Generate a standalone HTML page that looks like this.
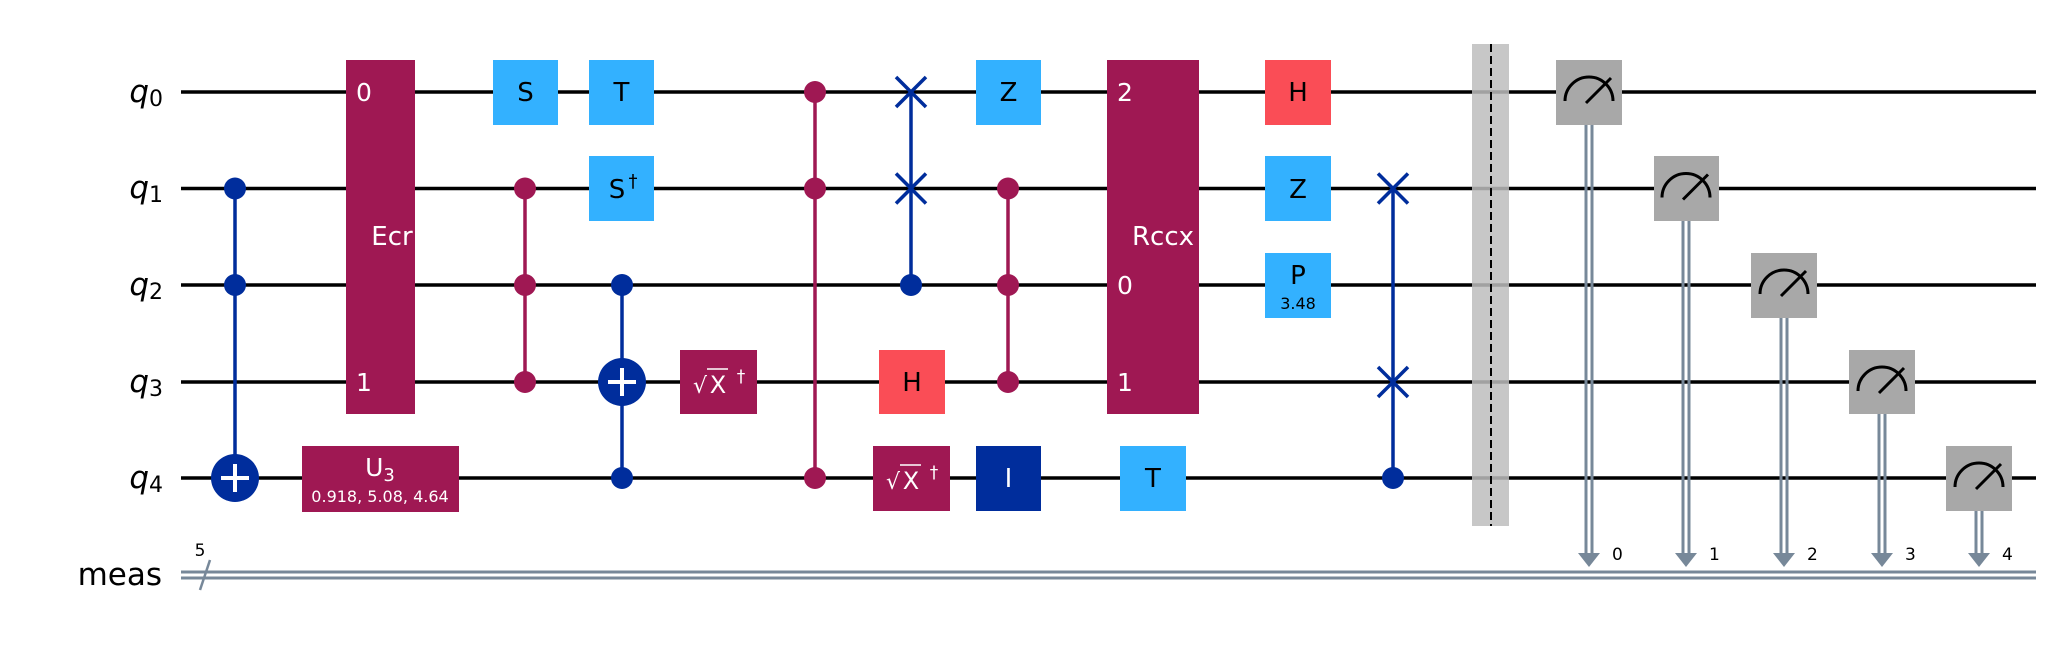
<!DOCTYPE html>
<html><head><meta charset="utf-8"><style>
html,body{margin:0;padding:0;background:#fff;}
svg{display:block;font-family:"DejaVu Sans","Liberation Sans",sans-serif;}
</style></head><body>
<svg width="2052" height="648" viewBox="0 0 2052 648" xmlns="http://www.w3.org/2000/svg">
<rect width="2052" height="648" fill="#fff"/>
<!-- wires -->
<g stroke="#000" stroke-width="3.5">
<line x1="181" y1="92" x2="2036" y2="92"/>
<line x1="181" y1="188.5" x2="2036" y2="188.5"/>
<line x1="181" y1="285" x2="2036" y2="285"/>
<line x1="181" y1="382" x2="2036" y2="382"/>
<line x1="181" y1="478" x2="2036" y2="478"/>
</g>
<g stroke="#778899" stroke-width="3">
<line x1="181" y1="572" x2="2036" y2="572"/>
<line x1="181" y1="578" x2="2036" y2="578"/>
<line x1="200" y1="590" x2="210" y2="560" stroke-width="2.5"/>
</g>
<text x="200" y="556" font-size="17" text-anchor="middle">5</text>
<!-- labels -->
<g font-size="31" text-anchor="end" fill="#000">
<text x="163" y="102"><tspan font-style="italic">q</tspan><tspan font-size="22" dy="4">0</tspan></text>
<text x="163" y="198"><tspan font-style="italic">q</tspan><tspan font-size="22" dy="4">1</tspan></text>
<text x="163" y="295"><tspan font-style="italic">q</tspan><tspan font-size="22" dy="4">2</tspan></text>
<text x="163" y="392"><tspan font-style="italic">q</tspan><tspan font-size="22" dy="4">3</tspan></text>
<text x="163" y="488"><tspan font-style="italic">q</tspan><tspan font-size="22" dy="4">4</tspan></text>
<text x="162" y="585">meas</text>
</g>
<!-- col 235: CCX -->
<g>
<line x1="235" y1="188.5" x2="235" y2="478" stroke="#002D9C" stroke-width="3.5"/>
<circle cx="235" cy="188.5" r="11" fill="#002D9C"/>
<circle cx="235" cy="285" r="11" fill="#002D9C"/>
<circle cx="235" cy="478" r="24" fill="#002D9C"/>
<line x1="221" y1="478" x2="249" y2="478" stroke="#fff" stroke-width="4"/>
<line x1="235" y1="464" x2="235" y2="492" stroke="#fff" stroke-width="4"/>
</g>
<!-- Ecr -->
<g>
<rect x="346" y="60" width="69" height="354" fill="#9F1853"/>
<text x="356" y="101" font-size="25" fill="#fff">0</text>
<text x="356" y="391" font-size="25" fill="#fff">1</text>
<text x="392" y="245" font-size="26" fill="#fff" text-anchor="middle">Ecr</text>
</g>
<!-- U3 -->
<g>
<rect x="302" y="446" width="157" height="66" fill="#9F1853"/>
<text x="380" y="476" font-size="25" fill="#fff" text-anchor="middle">U<tspan font-size="18" dy="5">3</tspan></text>
<text x="380" y="502" font-size="16" fill="#fff" text-anchor="middle">0.918, 5.08, 4.64</text>
</g>
<!-- col 525 -->
<g>
<line x1="525" y1="188.5" x2="525" y2="382" stroke="#9F1853" stroke-width="3.5"/>
<circle cx="525" cy="188.5" r="11" fill="#9F1853"/>
<circle cx="525" cy="285" r="11" fill="#9F1853"/>
<circle cx="525" cy="382" r="11" fill="#9F1853"/>
</g>
<g>
<rect x="493" y="60" width="65" height="65" fill="#33B1FF"/>
<text x="525.5" y="101" font-size="26" text-anchor="middle">S</text>
</g>
<!-- col 622 -->
<g>
<rect x="589" y="60" width="65" height="65" fill="#33B1FF"/>
<text x="621.5" y="101" font-size="26" text-anchor="middle">T</text>
</g>
<g>
<rect x="589" y="156" width="65" height="65" fill="#33B1FF"/>
<text x="617" y="198" font-size="26" text-anchor="middle">S</text>
<text x="633" y="187" font-size="18" text-anchor="middle">†</text>
</g>
<g>
<line x1="622" y1="285" x2="622" y2="478" stroke="#002D9C" stroke-width="3.5"/>
<circle cx="622" cy="285" r="11" fill="#002D9C"/>
<circle cx="622" cy="478" r="11" fill="#002D9C"/>
<circle cx="622" cy="382" r="24" fill="#002D9C"/>
<line x1="608" y1="382" x2="636" y2="382" stroke="#fff" stroke-width="4"/>
<line x1="622" y1="368" x2="622" y2="396" stroke="#fff" stroke-width="4"/>
</g>
<!-- sqrt x dg q3 -->
<g>
<rect x="680" y="350" width="77" height="64" fill="#9F1853"/>
<text x="700" y="393" font-size="22" fill="#fff" text-anchor="middle">√</text>
<line x1="707" y1="369" x2="728" y2="369" stroke="#fff" stroke-width="1.5"/>
<text x="718" y="393" font-size="24" fill="#fff" text-anchor="middle">X</text>
<text x="741" y="382" font-size="17" fill="#fff" text-anchor="middle">†</text>
</g>
<!-- col 815 -->
<g>
<line x1="815" y1="92" x2="815" y2="478" stroke="#9F1853" stroke-width="3.5"/>
<circle cx="815" cy="92" r="11" fill="#9F1853"/>
<circle cx="815" cy="188.5" r="11" fill="#9F1853"/>
<circle cx="815" cy="478" r="11" fill="#9F1853"/>
</g>
<!-- col 911 -->
<g stroke="#002D9C" stroke-width="3.5">
<line x1="911" y1="92" x2="911" y2="285"/>
<line x1="896" y1="77" x2="926" y2="107"/><line x1="896" y1="107" x2="926" y2="77"/>
<line x1="896" y1="173.5" x2="926" y2="203.5"/><line x1="896" y1="203.5" x2="926" y2="173.5"/>
<circle cx="911" cy="285" r="11" fill="#002D9C" stroke="none"/>
</g>
<g>
<rect x="879" y="350" width="66" height="64" fill="#FA4D56"/>
<text x="912" y="391" font-size="26" text-anchor="middle">H</text>
</g>
<g>
<rect x="873" y="446" width="77" height="65" fill="#9F1853"/>
<text x="893" y="489" font-size="22" fill="#fff" text-anchor="middle">√</text>
<line x1="900" y1="465" x2="921" y2="465" stroke="#fff" stroke-width="1.5"/>
<text x="911" y="489" font-size="24" fill="#fff" text-anchor="middle">X</text>
<text x="934" y="478" font-size="17" fill="#fff" text-anchor="middle">†</text>
</g>
<!-- col 1008 -->
<g>
<rect x="976" y="60" width="65" height="65" fill="#33B1FF"/>
<text x="1008.5" y="101" font-size="26" text-anchor="middle">Z</text>
</g>
<g>
<line x1="1008" y1="188.5" x2="1008" y2="382" stroke="#9F1853" stroke-width="3.5"/>
<circle cx="1008" cy="188.5" r="11" fill="#9F1853"/>
<circle cx="1008" cy="285" r="11" fill="#9F1853"/>
<circle cx="1008" cy="382" r="11" fill="#9F1853"/>
</g>
<g>
<rect x="976" y="446" width="65" height="65" fill="#002D9C"/>
<text x="1008.5" y="487" font-size="26" fill="#fff" text-anchor="middle">I</text>
</g>
<!-- Rccx -->
<g>
<rect x="1107" y="60" width="92" height="354" fill="#9F1853"/>
<text x="1117" y="101" font-size="25" fill="#fff">2</text>
<text x="1117" y="294" font-size="25" fill="#fff">0</text>
<text x="1117" y="391" font-size="25" fill="#fff">1</text>
<text x="1163" y="245" font-size="26" fill="#fff" text-anchor="middle">Rccx</text>
</g>
<g>
<rect x="1120" y="446" width="66" height="65" fill="#33B1FF"/>
<text x="1153" y="487" font-size="26" text-anchor="middle">T</text>
</g>
<!-- col 1298 -->
<g>
<rect x="1265" y="60" width="66" height="65" fill="#FA4D56"/>
<text x="1298" y="101" font-size="26" text-anchor="middle">H</text>
</g>
<g>
<rect x="1265" y="156" width="66" height="65" fill="#33B1FF"/>
<text x="1298" y="198" font-size="26" text-anchor="middle">Z</text>
</g>
<g>
<rect x="1265" y="253" width="66" height="65" fill="#33B1FF"/>
<text x="1298" y="284" font-size="26" text-anchor="middle">P</text>
<text x="1298" y="309" font-size="16" text-anchor="middle">3.48</text>
</g>
<!-- col 1393 -->
<g stroke="#002D9C" stroke-width="3.5">
<line x1="1393" y1="188.5" x2="1393" y2="478"/>
<line x1="1378" y1="173.5" x2="1408" y2="203.5"/><line x1="1378" y1="203.5" x2="1408" y2="173.5"/>
<line x1="1378" y1="367" x2="1408" y2="397"/><line x1="1378" y1="397" x2="1408" y2="367"/>
<circle cx="1393" cy="478" r="11" fill="#002D9C" stroke="none"/>
</g>
<!-- barrier -->
<g>
<rect x="1472" y="44" width="37" height="482" fill="#BDBDBD" opacity="0.85"/>
<line x1="1491" y1="44" x2="1491" y2="526" stroke="#000" stroke-width="2" stroke-dasharray="8,4"/>
</g>
<!-- measures -->
<g>
<line x1="1586" y1="125" x2="1586" y2="555" stroke="#778899" stroke-width="3"/><line x1="1592" y1="125" x2="1592" y2="555" stroke="#778899" stroke-width="3"/>
<polygon points="1578,553 1600,553 1589,567" fill="#778899"/>
<rect x="1556" y="60" width="66" height="65" fill="#A8A8A8"/>
<path d="M1565,101 A24,24 0 0 1 1613,101" fill="none" stroke="#000" stroke-width="3"/>
<line x1="1586" y1="103" x2="1611" y2="78" stroke="#000" stroke-width="3"/>
<text x="1612" y="560" font-size="17">0</text>
</g>
<g>
<line x1="1683" y1="221" x2="1683" y2="555" stroke="#778899" stroke-width="3"/><line x1="1689" y1="221" x2="1689" y2="555" stroke="#778899" stroke-width="3"/>
<polygon points="1675,553 1697,553 1686,567" fill="#778899"/>
<rect x="1654" y="156" width="65" height="65" fill="#A8A8A8"/>
<path d="M1662,197.5 A24,24 0 0 1 1710,197.5" fill="none" stroke="#000" stroke-width="3"/>
<line x1="1683" y1="199.5" x2="1708" y2="174.5" stroke="#000" stroke-width="3"/>
<text x="1709" y="560" font-size="17">1</text>
</g>
<g>
<line x1="1781" y1="318" x2="1781" y2="555" stroke="#778899" stroke-width="3"/><line x1="1787" y1="318" x2="1787" y2="555" stroke="#778899" stroke-width="3"/>
<polygon points="1773,553 1795,553 1784,567" fill="#778899"/>
<rect x="1751" y="253" width="66" height="65" fill="#A8A8A8"/>
<path d="M1760,294 A24,24 0 0 1 1808,294" fill="none" stroke="#000" stroke-width="3"/>
<line x1="1781" y1="296" x2="1806" y2="271" stroke="#000" stroke-width="3"/>
<text x="1807" y="560" font-size="17">2</text>
</g>
<g>
<line x1="1879" y1="414" x2="1879" y2="555" stroke="#778899" stroke-width="3"/><line x1="1885" y1="414" x2="1885" y2="555" stroke="#778899" stroke-width="3"/>
<polygon points="1871,553 1893,553 1882,567" fill="#778899"/>
<rect x="1849" y="350" width="66" height="64" fill="#A8A8A8"/>
<path d="M1858,391 A24,24 0 0 1 1906,391" fill="none" stroke="#000" stroke-width="3"/>
<line x1="1879" y1="393" x2="1904" y2="368" stroke="#000" stroke-width="3"/>
<text x="1905" y="560" font-size="17">3</text>
</g>
<g>
<line x1="1976" y1="510" x2="1976" y2="555" stroke="#778899" stroke-width="3"/><line x1="1982" y1="510" x2="1982" y2="555" stroke="#778899" stroke-width="3"/>
<polygon points="1968,553 1990,553 1979,567" fill="#778899"/>
<rect x="1946" y="446" width="66" height="65" fill="#A8A8A8"/>
<path d="M1955,487 A24,24 0 0 1 2003,487" fill="none" stroke="#000" stroke-width="3"/>
<line x1="1976" y1="489" x2="2001" y2="464" stroke="#000" stroke-width="3"/>
<text x="2002" y="560" font-size="17">4</text>
</g>
</svg>
</body></html>
